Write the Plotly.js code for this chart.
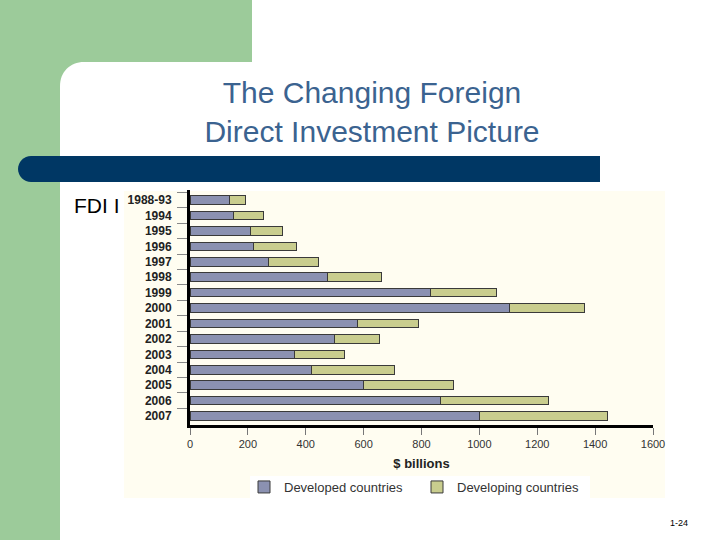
<!DOCTYPE html>
<html>
<head>
<meta charset="utf-8">
<script src="https://cdn.plot.ly/plotly-3.0.1.min.js"></script>
<style>html,body{margin:0;padding:0;background:#fff;}#chart{width:720px;height:540px;}</style>
</head>
<body>
<div id="chart"></div>
<script>
// Data (US$ billions)
var periods = ["1988-93","1994","1995","1996","1997","1998","1999","2000","2001","2002","2003","2004","2005","2006","2007"];
var developed = [138,150,210,221,271,475,831,1103,578,499,360,419,599,864,1002];
var developing = [55,103,109,148,172,187,229,259,212,157,175,289,313,374,441];
var xTicks = [0,200,400,600,800,1000,1200,1400,1600];

var W = 720, H = 540;
function fx(x){return x/W;}
function fy(y){return 1 - y/H;}
function path(cmds){
  return cmds.map(function(c){
    var s = c[0];
    var pts = [];
    for (var i=1;i<c.length;i+=2){ pts.push(fx(c[i]).toFixed(5)+','+fy(c[i+1]).toFixed(5)); }
    return s + pts.join(' ');
  }).join(' ') + ' Z';
}
function rect(x0,y0,x1,y1,color){
  return {type:'rect',xref:'paper',yref:'paper',x0:fx(x0),x1:fx(x1),y0:fy(y1),y1:fy(y0),
          fillcolor:color,line:{width:0},layer:'below'};
}
var green = '#9ccb9a';
var shapes = [
  rect(0,0,252,62,green),
  rect(0,0,60,540,green),
  rect(60,62,84,86,green),
  {type:'path',xref:'paper',yref:'paper',layer:'below',fillcolor:'#ffffff',line:{width:0},
   path: path([['M',60,86],['C',60,72,70,62,84,62],['L',84,86]])},
  {type:'path',xref:'paper',yref:'paper',layer:'below',fillcolor:'#003764',line:{width:0},
   path: path([['M',600,156],['L',31,156],['C',24,156,18,162,18,169],['C',18,176,24,182,31,182],['L',600,182]])},
  rect(124,191,665,498,'#fffdf1'),
  rect(250,476,590,498,'#ffffff')
];

var traces = [
  {type:'bar',orientation:'h',name:'Developed countries',y:periods,x:developed,
   marker:{color:'#8b91b1',line:{color:'#3a3a3a',width:1}},width:0.56},
  {type:'bar',orientation:'h',name:'Developing countries',y:periods,x:developing,
   marker:{color:'#c9cd8e',line:{color:'#3a3a3a',width:1}},width:0.56}
];

var layout = {
  width:W,height:H,
  margin:{l:0,r:0,t:0,b:0},
  paper_bgcolor:'#ffffff',plot_bgcolor:'rgba(0,0,0,0)',
  font:{family:'Liberation Sans, Arial, sans-serif',color:'#222'},
  barmode:'stack',bargap:0.4,
  title:{text:'The Changing Foreign<br>Direct Investment Picture',
         font:{family:'Liberation Sans, Arial, sans-serif',size:30,color:'#3b6390'},
         xref:'paper',x:fx(372),xanchor:'center',yref:'container',y:fy(103),yanchor:'middle'},
  xaxis:{domain:[fx(190),fx(653)],range:[0,1600],tickvals:xTicks,ticktext:xTicks.map(String),
         showgrid:false,zeroline:false,showline:true,linecolor:'#000',linewidth:3,
         ticks:'outside',ticklen:7,tickwidth:1,tickcolor:'#777',
         tickfont:{size:11,color:'#333'},
         title:{text:'<b>$ billions</b>',font:{size:13,color:'#222'},standoff:10},
         fixedrange:true},
  yaxis:{domain:[fy(425),fy(190)],range:[14.58,-0.65],type:'category',
         showgrid:false,zeroline:false,showline:true,linecolor:'#000',linewidth:3,
         ticks:'outside',tickson:'boundaries',ticklen:10,tickwidth:1,tickcolor:'#888',
         ticklabelstandoff:13,
         tickfont:{size:12,color:'#222',family:'Liberation Sans, Arial, sans-serif',weight:'bold'},
         fixedrange:true},
  showlegend:true,
  legend:{orientation:'h',x:fx(244),xanchor:'left',y:fy(487),yanchor:'middle',
          bgcolor:'rgba(0,0,0,0)',font:{size:13,color:'#333'},entrywidth:128,
          traceorder:'normal'},
  shapes:shapes,
  annotations:[
    {text:'FDI I',xref:'paper',yref:'paper',x:fx(72),y:fy(205),xanchor:'left',yanchor:'middle',
     showarrow:false,font:{size:21,color:'#000',family:'Liberation Sans, Arial, sans-serif'}},
    {text:'1-24',xref:'paper',yref:'paper',x:fx(690),y:fy(523),xanchor:'right',yanchor:'middle',
     showarrow:false,font:{size:9,color:'#000'}}
  ]
};

Plotly.newPlot('chart',traces,layout,{displayModeBar:false,staticPlot:true});
</script>
</body>
</html>
